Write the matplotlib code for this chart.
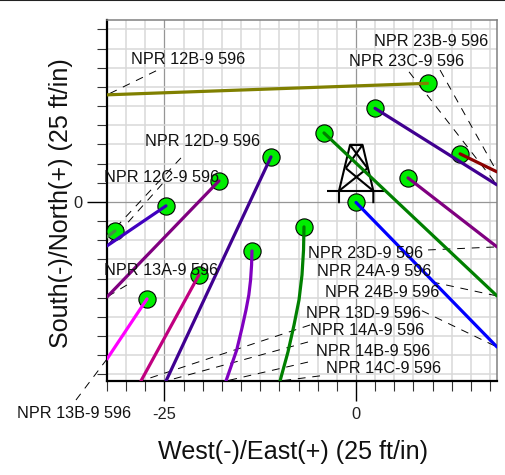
import matplotlib
matplotlib.use("Agg")
import matplotlib.pyplot as plt
from matplotlib.lines import Line2D
from matplotlib.ticker import MultipleLocator, NullFormatter

plt.rcParams['font.family'] = ['Liberation Sans', 'DejaVu Sans']
plt.rcParams['axes.unicode_minus'] = False

# well traces: lists of data coordinates (first point = surface location)
trace_x = [
    [9.33, -32.5], [2.48, 18.4], [13.58, 18.4], [-4.18, 18.4], [6.79, 18.4], [0.0, 18.4],
    [-6.79, -6.85, -7.05, -7.44, -8.09, -8.88, -9.92], [-11.1, -24.8], [-17.89, -32.5], [-24.8, -32.5],
    [-31.46, -32.5], [-13.58, -13.63, -13.76, -13.99, -14.36, -14.88, -15.57, -16.97], [-20.5, -28.07], [-27.28, -32.5],
]
trace_y = [
    [15.47, 13.97], [12.21, 2.22], [6.27, 3.92], [9.0, -12.27], [3.13, -5.87], [-0.07, -18.93],
    [-3.26, -6.27, -9.53, -12.79, -16.06, -19.58, -23.37], [5.87, -23.37], [2.74, -12.4], [-0.52, -5.74],
    [-3.79, -4.57], [-6.4, -8.22, -10.18, -12.14, -14.1, -16.45, -19.32, -23.37], [-9.53, -23.37], [-12.66, -20.5],
]
trace_colors = ['#808000', '#400090', '#8B0000', '#008000', '#800080', '#0000FF',
                '#008000', '#400090', '#800080', '#4000C0', '#409040', '#8000C0',
                '#C00080', '#FF00FF']

label_names = ['NPR 12B-9 596', 'NPR 12D-9 596', 'NPR 12C-9 596', 'NPR 13A-9 596',
               'NPR 13B-9 596', 'NPR 23B-9 596', 'NPR 23C-9 596', 'NPR 23D-9 596',
               'NPR 24A-9 596', 'NPR 24B-9 596', 'NPR 13D-9 596', 'NPR 14A-9 596',
               'NPR 14B-9 596', 'NPR 14C-9 596']
label_x = [-29.37, -27.55, -32.9, -32.9, -44.26, 2.35, -0.91, -6.33, -5.09, -4.05, -6.53, -6.0, -5.2, -3.9]
label_y = [18.54, 7.9, 3.13, -9.0, -27.66, 20.94, 18.28, -6.79, -9.14, -11.88, -14.56, -16.76, -19.46, -21.76]

leader_x0 = [-26.1, -22.85, -24.0, -29.9, -36.55, 10.97, 6.92, 9.4, 9.9, 8.6, -6.0, -6.27, -6.27, -4.7]
leader_y0 = [17.1, 5.74, 3.79, -10.84, -25.85, 17.2, 16.97, -6.27, -10.44, -14.2, -16.06, -18.28, -20.9, -22.7]
leader_x1 = [-32.5, -32.5, -32.5, -32.5, -32.5, 18.4, 18.4, 18.4, 18.4, 18.4, -28.07, -24.8, -16.97, -9.92]
leader_y1 = [13.97, -4.57, -5.74, -12.4, -20.5, 3.92, 2.22, -5.87, -12.27, -18.93, -23.37, -23.37, -23.37, -23.37]

derrick_x = [[-2.22, -2.22, -0.78, 0.85, 2.26, 2.26], [-3.79, 3.66], [-0.78, 0.85],
             [-0.78, 1.5], [0.85, -1.34], [-1.34, 2.26], [1.5, -2.22]]
derrick_y = [[-0.17, 1.44, 7.44, 7.44, 1.44, -0.17], [1.44, 1.44], [7.44, 7.44],
             [7.44, 4.4], [7.44, 4.4], [4.4, 1.44], [4.4, 1.44]]

W, H = 506, 475
fig = plt.figure(figsize=(W / 100, H / 100), dpi=100)
L, R, T, B = 107, 497, 19.5, 381
ax = fig.add_axes([L / W, 1 - B / H, (R - L) / W, (B - T) / H])
ax.set_xlim(-32.5, 18.4)
ax.set_ylim(-23.37, 23.8)

ax.xaxis.set_major_locator(MultipleLocator(25))
ax.yaxis.set_major_locator(MultipleLocator(25))
ax.xaxis.set_minor_locator(MultipleLocator(2.5))
ax.yaxis.set_minor_locator(MultipleLocator(2.5))
ax.xaxis.set_minor_formatter(NullFormatter())
ax.yaxis.set_minor_formatter(NullFormatter())
ax.grid(which='minor', color='#D8D8D8', lw=1.1, zorder=0)
ax.grid(which='major', color='#969696', lw=0.9, zorder=0.5)
ax.set_axisbelow(True)
ax.tick_params(which='major', length=14.4, width=1.0, color='black', labelsize=11.8, labelcolor='#222222')
ax.tick_params(axis='x', which='major', pad=4.5)
ax.tick_params(axis='y', which='major', pad=3)
ax.tick_params(which='minor', length=7.2, width=0.8, color='#333333')

for s in ('left', 'bottom'):
    ax.spines[s].set_linewidth(1.6)
    ax.spines[s].set_color('black')
for s in ('top', 'right'):
    ax.spines[s].set_linewidth(1.1)
    ax.spines[s].set_color('#808080')

for dx, dy in zip(derrick_x, derrick_y):
    ax.plot(dx, dy, color='black', lw=1.5, zorder=2, solid_capstyle='butt')

for x0, y0, x1, y1 in zip(leader_x0, leader_y0, leader_x1, leader_y1):
    ax.plot([x0, x1], [y0, y1], color='black', lw=0.7, dashes=(8, 7), zorder=2.5, clip_on=False)

ax.plot([t[0] for t in trace_x], [t[0] for t in trace_y], ls='none', marker='o', ms=12.4,
        mfc='#00EE00', mec='black', mew=0.8, zorder=3, clip_on=False)

for tx, ty, c in zip(trace_x, trace_y, trace_colors):
    ax.plot(tx, ty, color=c, lw=2.3, zorder=4, solid_capstyle='round', solid_joinstyle='round')

for name, x, y in zip(label_names, label_x, label_y):
    ax.text(x, y, name, fontsize=11.7, ha='left', va='center', color='#111111', zorder=5, clip_on=False)

ax.set_xlabel('West(-)/East(+) (25 ft/in)', fontsize=18.1, color='#111111')
ax.set_ylabel('South(-)/North(+) (25 ft/in)', fontsize=18.1, color='#111111')
ax.xaxis.set_label_coords((293 - L) / (R - L), (B - 452) / (B - T), transform=ax.transAxes)
ax.xaxis.label.set_verticalalignment('center')
ax.yaxis.set_label_coords((61 - L) / (R - L), (B - 203) / (B - T), transform=ax.transAxes)
ax.yaxis.label.set_verticalalignment('center')

fig.add_artist(Line2D([0, 1], [0.999, 0.999], color='#222222', lw=1.5, transform=fig.transFigure))

fig.savefig('out.png', dpi=100)
